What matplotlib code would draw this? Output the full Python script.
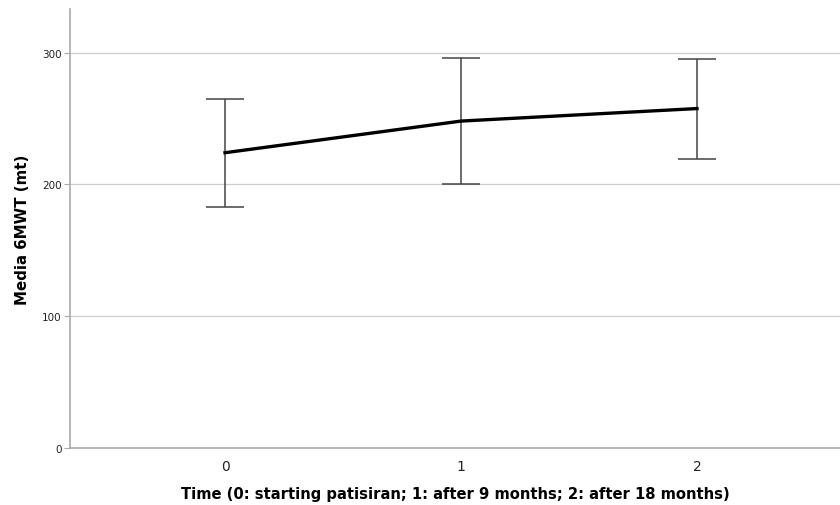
import numpy as np
import matplotlib.pyplot as plt

times = [0, 1, 2]
means = [224, 248, 257.5]
upper = [265, 295.5, 295]
lower = [183, 200.5, 219.5]
y_ticks = [0, 100, 200, 300]

XLABEL = "Time (0: starting patisiran; 1: after 9 months; 2: after 18 months)"
YLABEL = "Media 6MWT (mt)"


def main():
    plt.rcParams['font.family'] = ['DejaVu Sans']
    fig = plt.figure(figsize=(8.4, 5.06), dpi=100)
    ax = fig.add_axes([0.0833, 0.1126, 0.9167, 0.8676])

    m = np.array(means)
    yerr = [m - np.array(lower), np.array(upper) - m]

    ax.errorbar(times, means, yerr=yerr, fmt='none', ecolor='#444444',
                elinewidth=1.1, capsize=13.7, capthick=1.1, zorder=3)
    ax.plot(times, means, color='black', linewidth=2.4, zorder=4)

    ax.set_xlim(-0.657, 2.606)
    ax.set_ylim(0, 333)
    ax.set_xticks(times)
    ax.set_yticks(y_ticks)
    ax.tick_params(axis='x', length=0, labelsize=10, pad=8, colors='#222222')
    ax.tick_params(axis='y', length=4, width=0.8, color='#aaaaaa',
                   labelsize=7.5, pad=2, labelcolor='#222222')
    ax.yaxis.grid(True, color='#cccccc', linewidth=0.9)
    ax.set_axisbelow(True)

    for side in ['top', 'right']:
        ax.spines[side].set_visible(False)
    for side in ['left', 'bottom']:
        ax.spines[side].set_color('#aaaaaa')
        ax.spines[side].set_linewidth(1.2)

    ax.set_xlabel(XLABEL, fontsize=10.6, fontweight='bold', labelpad=9)
    ax.set_ylabel(YLABEL, fontsize=10.8, fontweight='bold', labelpad=9)

    fig.savefig("out.png", dpi=100)


if __name__ == "__main__":
    main()
